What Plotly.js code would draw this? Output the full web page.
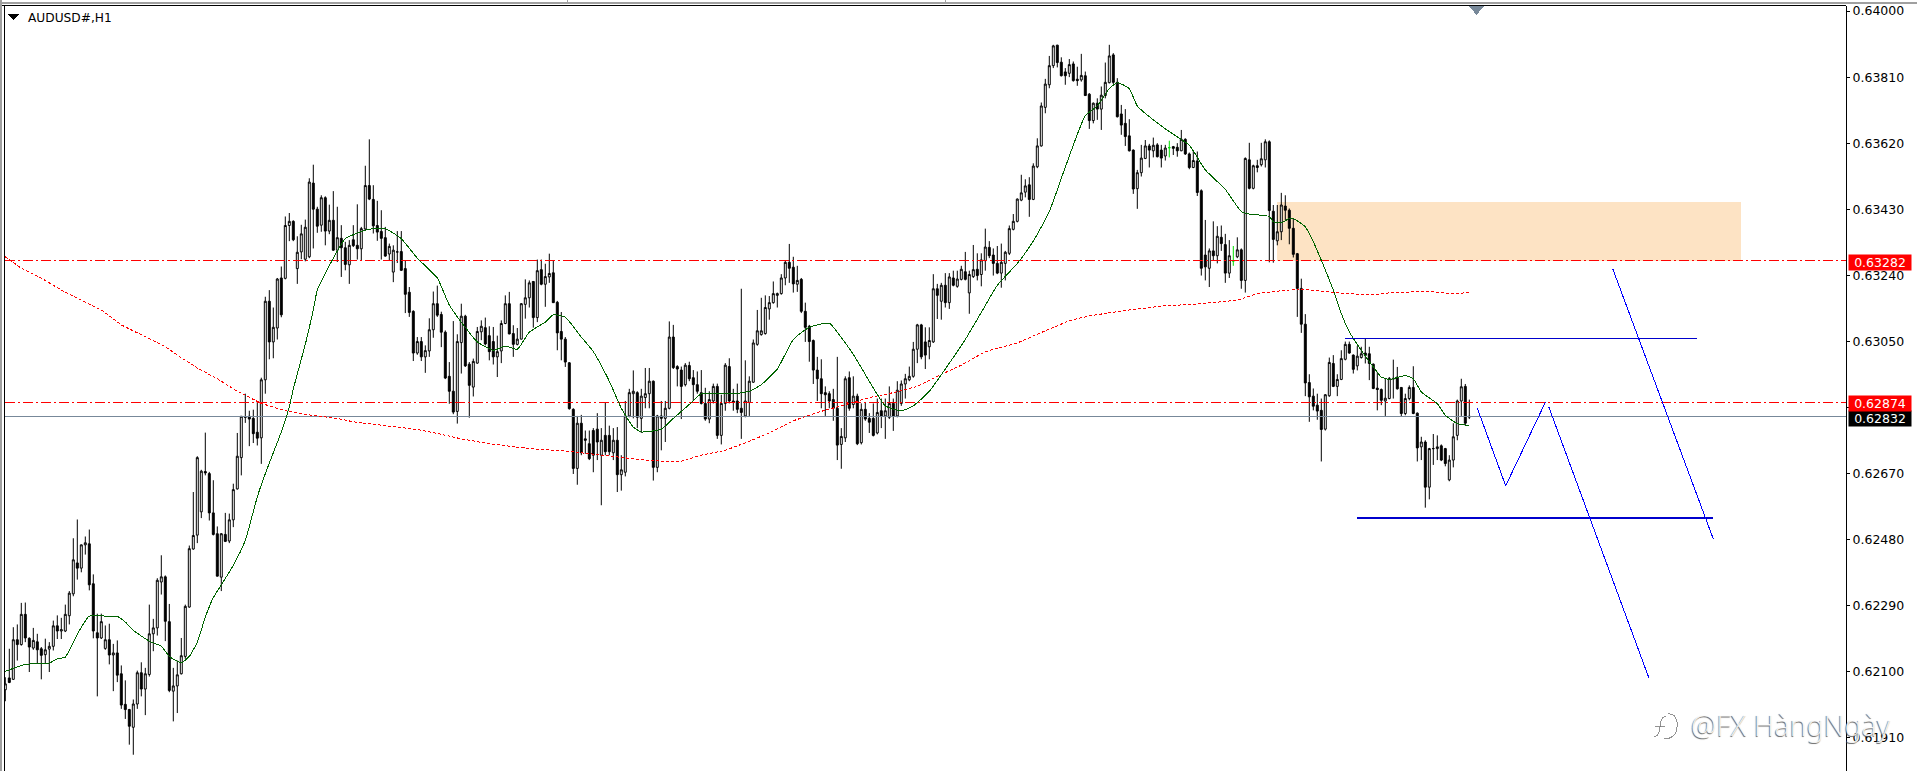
<!DOCTYPE html>
<html><head><meta charset="utf-8">
<script src="https://cdn.plot.ly/plotly-3.0.1.min.js"></script>
<style>html,body{margin:0;padding:0;background:#fff;overflow:hidden}
.js-line{shape-rendering:crispEdges}
.shapelayer path{shape-rendering:crispEdges}
.wm path{shape-rendering:auto}</style></head>
<body><div id="chart" style="width:1917px;height:771px"></div>
<script>
const symbolTitle = "AUDUSD#,H1";
const pointSize = 1e-5;
const open = [62047,62081,62077,62191,62177,62264,62195,62167,62185,62165,
62148,62164,62172,62231,62216,62216,62260,62323,62412,62397,
62464,62467,62352,62211,62196,62166,62191,62147,62153,62093,
62005,61990,61939,62006,62096,62049,62091,62208,62225,62357,
62372,62243,62043,62058,62093,62143,62285,62452,62492,62559,
62675,62669,62556,62496,62371,62494,62475,62536,62625,62715,
62831,62834,62828,62788,62772,62939,63165,63048,63088,63232,
63231,63383,63395,63259,63307,63286,63293,63505,63430,63384,
63463,63367,63398,63312,63346,63319,63270,63342,63326,63316,
63373,63498,63458,63383,63366,63348,63301,63249,63307,63308,
63259,63191,63136,63016,63049,63005,63022,63083,63158,63127,
63076,62949,62906,62848,63046,63122,62984,62918,62987,63077,
63089,63066,63049,63005,63022,63101,63158,63072,63041,63056,
63156,63175,63222,63118,63256,63214,63235,63247,63162,63078,
63056,62988,62854,62684,62814,62769,62755,62793,62797,62722,
62779,62779,62729,62765,62666,62673,62835,62899,62902,62828,
62888,62899,62935,62687,62835,62828,62857,63062,62977,62967,
62925,62980,62945,62925,62902,62871,62826,62878,62920,62779,
62871,62977,62878,62878,62857,62835,62874,62932,63041,63069,
63072,63143,63161,63182,63187,63232,63277,63263,63214,63228,
63136,63093,63052,62967,62942,62902,62899,62882,62857,62753,
62772,62945,62868,62892,62758,62854,62828,62828,62786,62850,
62835,62831,62871,62835,62871,62927,62939,62949,63027,63097,
63048,63034,63048,63201,63165,63211,63161,63232,63208,63228,
63250,63189,63236,63257,63242,63282,63320,63298,63274,63246,
63274,63303,63372,63395,63456,63479,63500,63458,63552,63612,
63723,63788,63843,63902,63853,63825,63821,63848,63804,63802,
63814,63761,63685,63735,63718,63757,63794,63874,63795,63704,
63677,63641,63600,63489,63535,63576,63612,63598,63615,63600,
63583,63607,63610,63608,63598,63631,63589,63550,63569,63483,
63298,63260,63310,63296,63349,63328,63246,63281,63293,63313,
63225,63572,63490,63555,63558,63572,63624,63424,63339,63365,
63439,63427,63375,63302,63202,63099,62931,62892,62866,62851,
62797,62893,62986,62920,62940,62998,63041,63010,62979,63003,
63016,63014,62984,62915,62911,62878,62885,62941,62947,62917,
62842,62885,62917,62843,62746,62760,62630,62741,62741,62749,
62741,62651,62708,62779,62878,62920,62834];
const high = [62083,62165,62227,62235,62297,62298,62198,62225,62208,62170,
62194,62184,62246,62261,62254,62292,62331,62483,62537,62465,
62488,62508,62379,62266,62266,62232,62237,62179,62189,62117,
62074,61992,62019,62102,62126,62110,62292,62251,62368,62434,
62376,62294,62110,62131,62196,62292,62462,62616,62719,62680,
62787,62674,62650,62517,62498,62556,62554,62640,62786,62834,
62899,62850,62853,62878,62945,63178,63197,63147,63232,63265,
63409,63419,63398,63352,63385,63400,63519,63558,63437,63470,
63467,63443,63482,63437,63384,63336,63341,63384,63444,63379,
63555,63631,63499,63454,63427,63379,63331,63326,63367,63367,
63281,63206,63139,63062,63062,63038,63116,63193,63210,63135,
63081,62990,63108,63070,63158,63126,62990,63000,63091,63110,
63118,63093,63091,63066,63110,63182,63192,63096,63088,63160,
63228,63225,63223,63285,63285,63273,63302,63283,63166,63134,
63062,62990,62857,62835,62838,62793,62793,62800,62843,62800,
62874,62807,62800,62803,62722,62878,62913,62966,62906,62913,
62973,62973,62937,62838,62878,62878,63107,63097,62981,62977,
62987,62991,62967,62963,62967,62916,62906,62928,62928,62896,
62987,63001,62913,62928,63201,62995,62949,63055,63140,63175,
63182,63180,63222,63190,63243,63282,63330,63293,63267,63232,
63161,63097,63055,63005,62998,62920,62906,62913,63005,62800,
62949,62963,62949,62899,62871,62874,62843,62871,62885,62885,
62885,62920,62885,62935,62937,62956,62977,63048,63100,63100,
63090,63090,63243,63215,63218,63246,63246,63253,63253,63267,
63307,63253,63327,63303,63303,63374,63338,63317,63324,63331,
63310,63383,63416,63461,63529,63516,63522,63562,63634,63737,
63805,63871,63903,63903,63867,63836,63862,63855,63840,63877,
63826,63764,63737,63749,63783,63852,63903,63879,63807,63730,
63718,63689,63602,63543,63615,63629,63618,63636,63620,63615,
63615,63627,63612,63620,63658,63634,63593,63598,63596,63487,
63399,63317,63395,63381,63383,63359,63341,63324,63349,63317,
63579,63621,63558,63572,63621,63631,63628,63442,63442,63477,
63470,63432,63403,63304,63230,63128,62955,62914,62899,62885,
62898,63003,63010,62955,63024,63049,63049,63012,63036,63034,
63058,63034,62986,62962,62914,62942,62947,62997,62976,62918,
62899,62923,62978,62845,62775,62765,62743,62783,62779,62753,
62743,62722,62814,62882,62942,62927,62882];
const low = [62014,62066,62075,62131,62174,62184,62098,62162,62122,62077,
62122,62098,62160,62193,62193,62213,62235,62316,62364,62385,
62436,62333,62195,62028,62193,62162,62120,62043,62069,61992,
61963,61889,61860,61992,62028,61974,62085,62158,62203,62321,
62187,62040,61956,61980,62091,62136,62283,62450,62469,62541,
62664,62534,62491,62373,62331,62472,62469,62515,62623,62664,
62815,62748,62757,62750,62697,62899,62998,63001,63055,63119,
63228,63338,63338,63215,63286,63280,63289,63317,63362,63365,
63326,63358,63310,63278,63235,63254,63215,63321,63285,63281,
63369,63456,63360,63339,63285,63293,63281,63220,63275,63252,
63131,63120,62993,63011,62993,62959,63005,63060,63120,63033,
62941,62870,62840,62813,62957,62976,62830,62891,62985,63053,
63038,62995,62983,62947,62987,63099,63070,63005,63038,63055,
63115,63147,63089,63105,63211,63149,63218,63160,63024,62995,
62976,62853,62668,62637,62722,62726,62708,62673,62708,62578,
62722,62722,62708,62616,62620,62661,62831,62828,62800,62786,
62857,62857,62649,62673,62736,62760,62854,62970,62920,62826,
62920,62935,62878,62899,62868,62821,62814,62871,62769,62753,
62850,62871,62850,62843,62769,62831,62835,62930,63037,63066,
63069,63112,63158,63147,63184,63211,63218,63190,63192,63131,
63048,62991,62927,62878,62857,62835,62857,62821,62708,62683,
62760,62850,62857,62751,62753,62821,62786,62776,62782,62800,
62769,62826,62792,62831,62864,62885,62935,62945,62987,62998,
62970,62998,63045,63114,63112,63147,63143,63208,63204,63225,
63225,63129,63232,63225,63208,63253,63289,63239,63243,63204,
63225,63298,63369,63392,63453,63464,63408,63456,63548,63610,
63706,63778,63836,63838,63812,63788,63810,63797,63785,63797,
63756,63661,63677,63687,63658,63749,63792,63790,63694,63644,
63612,63596,63474,63431,63524,63574,63550,63579,63579,63550,
63570,63579,63586,63581,63597,63586,63545,63548,63468,63239,
63225,63206,63282,63274,63310,63218,63232,63267,63289,63201,
63190,63487,63487,63536,63553,63550,63277,63276,63326,63341,
63398,63329,63291,63120,63074,62892,62818,62851,62824,62704,
62793,62890,62918,62892,62938,62995,63014,62957,62966,63000,
62986,62938,62912,62851,62866,62835,62883,62885,62911,62832,
62837,62880,62840,62704,62708,62571,62595,62694,62708,62705,
62690,62647,62687,62765,62835,62807,62826];
const close = [62064,62068,62191,62177,62264,62196,62170,62189,62162,62146,
62162,62172,62231,62216,62220,62264,62325,62421,62397,62464,
62470,62349,62216,62196,62243,62191,62147,62153,62089,62003,
61990,61942,62006,62096,62049,62093,62208,62225,62362,62372,
62244,62045,62058,62090,62145,62287,62453,62491,62715,62676,
62671,62556,62494,62374,62496,62474,62536,62623,62719,62834,
62832,62826,62784,62771,62939,63165,63048,63090,63229,63126,
63383,63395,63342,63306,63359,63378,63508,63430,63381,63463,
63367,63398,63312,63348,63319,63271,63326,63325,63316,63374,
63498,63459,63382,63364,63346,63295,63323,63312,63307,63254,
63185,63133,63016,63049,63005,63023,63083,63158,63125,63076,
62944,62906,62846,63049,63122,62979,62923,62992,63078,63093,
63042,63020,63005,63020,63101,63158,63071,63041,63056,63158,
63175,63218,63118,63253,63214,63236,63245,63161,63074,63056,
62990,62856,62684,62814,62729,62765,62712,62722,62760,62765,
62732,62732,62765,62666,62680,62835,62902,62906,62831,62892,
62899,62935,62687,62835,62828,62857,63062,62974,62970,62920,
62981,62942,62925,62906,62871,62826,62882,62920,62779,62871,
62981,62878,62874,62854,62845,62878,62935,63045,63080,63080,
63147,63161,63187,63187,63232,63277,63260,63215,63225,63136,
63090,63049,62967,62942,62899,62896,62878,62857,62751,62776,
62942,62857,62892,62755,62854,62826,62817,62779,62845,62835,
62850,62871,62835,62909,62927,62942,62949,63027,63097,63005,
63010,63052,63201,63182,63211,63161,63235,63211,63229,63257,
63228,63242,63256,63239,63284,63321,63296,63274,63246,63277,
63306,63374,63395,63459,63477,63497,63458,63554,63612,63727,
63790,63843,63900,63852,63814,63814,63846,63800,63800,63815,
63757,63685,63735,63718,63758,63795,63871,63795,63696,63672,
63639,63598,63488,63535,63577,63612,63600,63614,63581,63577,
63606,63607,63605,63598,63631,63589,63550,63570,63478,63260,
63264,63310,63296,63352,63331,63246,63296,63281,63313,63225,
63576,63490,63555,63550,63575,63624,63426,63343,63365,63442,
63427,63375,63300,63202,63099,62930,62890,62863,62849,62796,
62896,62989,62920,62940,63000,63041,63016,62969,63007,63014,
63009,62986,62914,62911,62880,62886,62943,62943,62913,62842,
62885,62917,62842,62743,62760,62630,62741,62741,62746,62708,
62698,62708,62775,62878,62919,62814,62832];
const greenBars = [291,307];

const maFastBar = [0,5,11,13,15,17,19,21,25,28,30,32,36,39,41,44,46,48,50,52,54,57,60,63,65,69,71,72,75,77,78,83,85,89,92,95,99,103,108,111,114,118,122,125,128,131,135,137,140,144,147,151,154,157,159,164,167,172,174,182,186,189,193,197,201,206,208,212,216,220,224,227,231,235,240,244,248,253,257,261,265,270,273,276,278,281,283,290,296,300,305,309,311,316,317,319,321,322,325,327,329,332,334,336,339,342,344,346,350,352,354,358,360,363,366];
const maFastValue = [62100,62120,62124,62136,62141,62184,62227,62259,62259,62258,62242,62218,62187,62172,62143,62125,62143,62184,62256,62312,62349,62405,62477,62602,62669,62789,62861,62913,63041,63140,63197,63310,63345,63366,63374,63374,63345,63289,63232,63154,63105,63048,63024,63036,63027,63076,63105,63126,63119,63062,63020,62935,62857,62803,62789,62797,62828,62878,62899,62899,62906,62925,62970,63055,63090,63102,63076,63012,62935,62864,62850,62864,62906,62970,63055,63133,63211,63274,63338,63423,63551,63699,63727,63777,63794,63777,63727,63661,63614,63543,63487,63423,63416,63409,63394,63391,63403,63403,63379,63336,63283,63197,63130,63077,63024,62976,62947,62940,62951,62942,62904,62870,62837,62813,62807];
const maSlowBar = [0,4,9,14,19,24,29,34,40,43,48,53,58,64,70,76,83,87,95,103,109,114,121,131,141,152,159,164,169,174,180,186,191,197,203,209,216,222,228,233,239,245,253,260,266,271,279,289,299,308,313,318,323,327,333,341,346,352,357,362,366];
const maSlowValue = [63293,63260,63232,63197,63168,63140,63097,63069,63034,63010,62973,62942,62906,62871,62850,62838,62828,62818,62807,62796,62782,62769,62755,62741,62733,62718,62709,62705,62705,62722,62736,62762,62786,62821,62845,62864,62888,62902,62920,62949,62981,63020,63045,63080,63109,63123,63137,63151,63158,63168,63187,63194,63200,63197,63189,63183,63189,63192,63192,63187,63190];

const levelUpper = 0.63282, levelLower = 0.62874, lastPrice = 0.62832;
const axisStart = -0.075, axisEnd = 460.175;
const zoneBars = [318,433.9], zonePrices = [0.63282,0.63450];
const rangeTopBars = [334.9,422.9], rangeTopPrice = [0.63058,0.63058];
const rangeBottomBars = [338,426.8], rangeBottomPrice = [0.62540,0.62540];
const zigBars = [368,375.1,385], zigPrices = [0.62857,0.62634,0.62874];
const dropBars = [385.9,410.9], dropPrices = [0.62860,0.62081];
const rightBars = [401.9,427], rightPrices = [0.63257,0.62481];
const tickValues = [0.64,0.6381,0.6362,0.6343,0.6324,0.6305,0.6286,0.6267,0.6248,0.6229,0.621,0.6191];

const W = 1917, H = 771, L = 5, R = 1846, T = 6;
const toP = a => a.map(v => v * pointSize);
const keep = (a, g) => a.filter((_, i) => g === greenBars.includes(i));
const idx = open.map((_, i) => i);
const px = x => (x - L) / (R - L);
const py = y => 1 - (y - T) / (H - T);
const candle = (g, col) => ({
  type:'candlestick', x:keep(idx,g), open:toP(keep(open,g)), high:toP(keep(high,g)), low:toP(keep(low,g)), close:toP(keep(close,g)),
  whiskerwidth:0, showlegend:false, hoverinfo:'skip',
  increasing:{line:{color:col,width:1},fillcolor:g?col:'#ffffff'},
  decreasing:{line:{color:col,width:1},fillcolor:col}
});
const line = (x,y,color,dash,width,shape,smooth) => ({type:'scatter',mode:'lines',x,y,showlegend:false,hoverinfo:'skip',line:{color,dash:dash||'solid',width:width||1,shape:shape||'linear',smoothing:smooth===undefined?1:smooth}});
const dashDot = '10px,3px,2px,3px';
const traces = [
  candle(false,'#000000'), candle(true,'#00e000'),
  line([axisStart,axisEnd],[lastPrice,lastPrice],'#778899'),
  line([axisStart,axisEnd],[levelUpper,levelUpper],'#ff0000',dashDot),
  line([axisStart,axisEnd],[levelLower,levelLower],'#ff0000',dashDot),
  line(maSlowBar,toP(maSlowValue),'#ff0000','3px,2px',1),
  line(maFastBar,toP(maFastValue),'#006400','solid',1,'spline',0.5),
  line(rangeTopBars,rangeTopPrice,'#0000cd'),
  line(rangeBottomBars,rangeBottomPrice,'#0000cd','solid',2),
  line(zigBars,zigPrices,'#0000ff'),
  line(dropBars,dropPrices,'#0000ff'),
  line(rightBars,rightPrices,'#0000ff')
];
const chromeLine = (x0,y0,x1,y1,color,w) => ({type:'line',xref:'paper',yref:'paper',x0:px(x0),x1:px(x1),y0:py(y0),y1:py(y1),line:{color,width:w||1},layer:'above'});
const stroke = (d) => ({type:'path',xref:'paper',yref:'paper',layer:'above',line:{color:'rgba(110,110,110,0.75)',width:1},
  path:d.replace(/(-?[\d.]+),(-?[\d.]+)/g,(m,a,b)=>px(+a)+','+py(+b))});
const shapes = [
  {type:'rect',xref:'x',yref:'y',x0:zoneBars[0],x1:zoneBars[1],y0:zonePrices[0],y1:zonePrices[1],fillcolor:'#fde3c4',line:{width:0},layer:'below'},
  chromeLine(0,3,W,3,'#a0a0a0',2),
  chromeLine(0,5.5,R,5.5,'#000000',1),
  chromeLine(1,0,1,H,'#a0a0a0',2),
  chromeLine(4.5,5,4.5,H,'#000000',1),
  chromeLine(567,0,567,2,'#a0a0a0',1),
  chromeLine(945,0,945,2,'#a0a0a0',1),
  {type:'path',xref:'paper',yref:'paper',layer:'above',fillcolor:'#778899',line:{width:0},
   path:`M${px(1469)},${py(6)}L${px(1484)},${py(6)}L${px(1476.5)},${py(15)}Z`},
  {type:'path',xref:'paper',yref:'paper',layer:'above',fillcolor:'#000000',line:{width:0},
   path:`M${px(8)},${py(14)}L${px(19)},${py(14)}L${px(13.5)},${py(20)}Z`},
  stroke('M1668,714C1675,713 1678,720 1677,727C1677,735 1671,739 1664,739'),
  stroke('M1666,716C1661,717 1660,722 1660,727C1660,732 1658,736 1654,737'),
  stroke('M1655,726L1665,726')
];
const tag = (price,text,bg,shift) => ({xref:'paper',yref:'y',x:px(1848),xanchor:'left',y:price,yshift:shift,text,showarrow:false,
  width:62,height:15,align:'center',bgcolor:bg,borderpad:0,font:{family:'DejaVu Sans',size:12.5,color:'#ffffff'}});
const annotations = [
  tag(lastPrice,'0.62832','#000000',-2),
  tag(levelLower,'0.62874','#ff0000',-1.5),
  tag(levelUpper,'0.63282','#ff0000',-2),
  {xref:'paper',yref:'paper',x:px(26),y:py(18),xanchor:'left',yanchor:'middle',text:symbolTitle,showarrow:false,font:{family:'DejaVu Sans',size:12.2,color:'#000000'}},
  {xref:'paper',yref:'paper',x:px(1689),y:py(725),xanchor:'left',yanchor:'middle',text:'@FX HàngNgày',showarrow:false,
   font:{family:'Noto Sans',size:28.5,weight:300,color:'rgba(255,255,255,0.85)',shadow:'-0.7px 0.7px 0.7px #555'}}
];
const tickFmt = tickValues.map(v => v.toFixed(5));
Plotly.newPlot('chart',traces,{
  width:W,height:H,margin:{l:L,r:W-R,t:T,b:0,pad:0},paper_bgcolor:'#ffffff',plot_bgcolor:'#ffffff',showlegend:false,
  xaxis:{range:[axisStart,axisEnd],visible:false,rangeslider:{visible:false},fixedrange:true},
  yaxis:{range:[0.618132,0.640147],side:'right',tickmode:'array',tickvals:tickValues,ticktext:tickFmt,ticks:'outside',ticklen:3,tickcolor:'#000',tickwidth:1,
    showline:true,linecolor:'#000',linewidth:1,showgrid:false,zeroline:false,fixedrange:true,tickfont:{family:'DejaVu Sans',size:12.5,color:'#000'},automargin:false},
  shapes,annotations
},{displayModeBar:false,staticPlot:true});
</script></body></html>
